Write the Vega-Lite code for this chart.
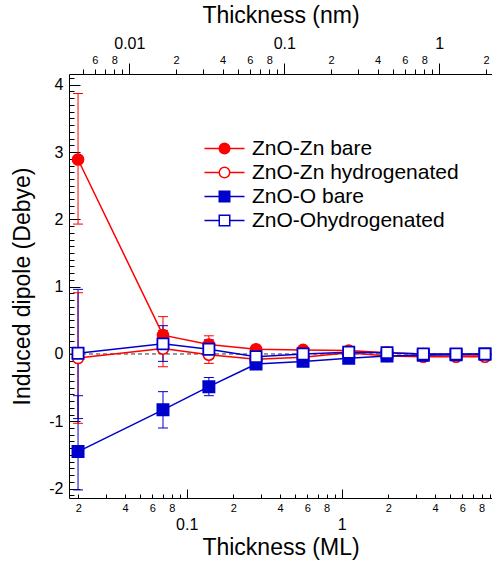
{
  "$schema": "https://vega.github.io/schema/vega-lite/v6.json",
  "width": 423,
  "height": 424,
  "autosize": {"type": "none"},
  "padding": {"left": 69, "top": 74, "right": 0, "bottom": 70},
  "background": "white",
  "config": {
    "view": {"stroke": null},
    "font": "Liberation Sans",
    "axis": {"grid": false, "domain": true, "domainColor": "black", "domainWidth": 1, "tickColor": "black", "tickWidth": 1, "labelColor": "black", "titleColor": "black", "titleFontWeight": "normal", "titleFontSize": 23, "labelOverlap": false, "labelFlush": false}
  },
  "datasets": {
    "pts": [
      {"s": "ZnO-Zn bare", "x": 0.0199, "y": 2.89, "lo": 1.93, "hi": 3.87},
      {"s": "ZnO-Zn bare", "x": 0.0703, "y": 0.28, "lo": 0.01, "hi": 0.555},
      {"s": "ZnO-Zn bare", "x": 0.139, "y": 0.14, "lo": 0.01, "hi": 0.27},
      {"s": "ZnO-Zn bare", "x": 0.28, "y": 0.07, "lo": 0.03, "hi": 0.11},
      {"s": "ZnO-Zn bare", "x": 0.563, "y": 0.06, "lo": 0.03, "hi": 0.09},
      {"s": "ZnO-Zn bare", "x": 1.11, "y": 0.05, "lo": 0.01, "hi": 0.09},
      {"s": "ZnO-Zn bare", "x": 1.96, "y": 0.02, "lo": 0.0, "hi": 0.04},
      {"s": "ZnO-Zn bare", "x": 3.36, "y": 0.0, "lo": -0.02, "hi": 0.02},
      {"s": "ZnO-Zn bare", "x": 5.47, "y": -0.01, "lo": -0.03, "hi": 0.01},
      {"s": "ZnO-Zn bare", "x": 8.4, "y": -0.02, "lo": -0.04, "hi": 0.0},
      {"s": "ZnO-Zn hydrogenated", "x": 0.0199, "y": -0.06, "lo": -1.03, "hi": 0.91},
      {"s": "ZnO-Zn hydrogenated", "x": 0.0703, "y": 0.08, "lo": -0.19, "hi": 0.35},
      {"s": "ZnO-Zn hydrogenated", "x": 0.139, "y": -0.01, "lo": -0.14, "hi": 0.12},
      {"s": "ZnO-Zn hydrogenated", "x": 0.28, "y": -0.08, "lo": -0.12, "hi": -0.04},
      {"s": "ZnO-Zn hydrogenated", "x": 0.563, "y": -0.05, "lo": -0.08, "hi": -0.02},
      {"s": "ZnO-Zn hydrogenated", "x": 1.11, "y": 0.02, "lo": -0.02, "hi": 0.06},
      {"s": "ZnO-Zn hydrogenated", "x": 1.96, "y": -0.03, "lo": -0.05, "hi": -0.01},
      {"s": "ZnO-Zn hydrogenated", "x": 3.36, "y": -0.04, "lo": -0.06, "hi": -0.02},
      {"s": "ZnO-Zn hydrogenated", "x": 5.47, "y": -0.04, "lo": -0.06, "hi": -0.02},
      {"s": "ZnO-Zn hydrogenated", "x": 8.4, "y": -0.04, "lo": -0.06, "hi": -0.02},
      {"s": "ZnO-O bare", "x": 0.0199, "y": -1.45, "lo": -2.02, "hi": -0.62},
      {"s": "ZnO-O bare", "x": 0.0703, "y": -0.83, "lo": -1.1, "hi": -0.56},
      {"s": "ZnO-O bare", "x": 0.139, "y": -0.486, "lo": -0.62, "hi": -0.35},
      {"s": "ZnO-O bare", "x": 0.28, "y": -0.15, "lo": -0.19, "hi": -0.11},
      {"s": "ZnO-O bare", "x": 0.563, "y": -0.11, "lo": -0.14, "hi": -0.08},
      {"s": "ZnO-O bare", "x": 1.11, "y": -0.065, "lo": -0.1, "hi": -0.03},
      {"s": "ZnO-O bare", "x": 1.96, "y": -0.03, "lo": -0.05, "hi": -0.01},
      {"s": "ZnO-O bare", "x": 3.36, "y": -0.02, "lo": -0.04, "hi": 0.0},
      {"s": "ZnO-O bare", "x": 5.47, "y": -0.01, "lo": -0.03, "hi": 0.01},
      {"s": "ZnO-O bare", "x": 8.4, "y": 0.0, "lo": -0.02, "hi": 0.02},
      {"s": "ZnO-Ohydrogenated", "x": 0.0199, "y": 0.01, "lo": -0.96, "hi": 0.96},
      {"s": "ZnO-Ohydrogenated", "x": 0.0703, "y": 0.15, "lo": -0.11, "hi": 0.42},
      {"s": "ZnO-Ohydrogenated", "x": 0.139, "y": 0.07, "lo": -0.07, "hi": 0.21},
      {"s": "ZnO-Ohydrogenated", "x": 0.28, "y": -0.04, "lo": -0.08, "hi": 0.0},
      {"s": "ZnO-Ohydrogenated", "x": 0.563, "y": 0.0, "lo": -0.03, "hi": 0.03},
      {"s": "ZnO-Ohydrogenated", "x": 1.11, "y": 0.025, "lo": -0.01, "hi": 0.06},
      {"s": "ZnO-Ohydrogenated", "x": 1.96, "y": 0.02, "lo": 0.0, "hi": 0.04},
      {"s": "ZnO-Ohydrogenated", "x": 3.36, "y": 0.0, "lo": -0.02, "hi": 0.02},
      {"s": "ZnO-Ohydrogenated", "x": 5.47, "y": 0.0, "lo": -0.02, "hi": 0.02},
      {"s": "ZnO-Ohydrogenated", "x": 8.4, "y": 0.0, "lo": -0.02, "hi": 0.02}
    ],
    "zero": [{"z": 0}],
    "nmrange": [{"nm": 0.004082}, {"nm": 2.188}]
  },
  "layer": [
    {
      "data": {"name": "zero"},
      "mark": {"type": "rule", "strokeDash": [4, 3], "color": "#333333", "strokeWidth": 1},
      "encoding": {
        "y": {"field": "z", "type": "quantitative", "scale": {"domain": [-2.14, 4.16], "nice": false, "zero": false}, "axis": null}
      }
    },
    {
      "data": {"name": "pts"},
      "mark": {"type": "rule", "strokeWidth": 1},
      "encoding": {
        "x": {"field": "x", "type": "quantitative", "scale": {"type": "log", "domain": [0.0174, 9.327], "nice": false}, "axis": null},
        "y": {"field": "lo", "type": "quantitative", "scale": {"domain": [-2.14, 4.16], "nice": false, "zero": false}, "axis": null},
        "y2": {"field": "hi"},
        "stroke": {"field": "s", "type": "nominal", "scale": {"domain": ["ZnO-Zn bare", "ZnO-Zn hydrogenated", "ZnO-O bare", "ZnO-Ohydrogenated"], "range": ["#ff0000", "#ff0000", "#0000cc", "#0000cc"]}}
      }
    },
    {
      "data": {"name": "pts"},
      "mark": {"type": "point", "shape": "stroke", "size": 100, "strokeWidth": 1, "opacity": 1, "filled": false},
      "encoding": {
        "x": {"field": "x", "type": "quantitative", "scale": {"type": "log", "domain": [0.0174, 9.327], "nice": false}, "axis": null},
        "y": {"field": "lo", "type": "quantitative", "scale": {"domain": [-2.14, 4.16], "nice": false, "zero": false}, "axis": null},
        "stroke": {"field": "s", "type": "nominal"}
      }
    },
    {
      "data": {"name": "pts"},
      "mark": {"type": "point", "shape": "stroke", "size": 100, "strokeWidth": 1, "opacity": 1, "filled": false},
      "encoding": {
        "x": {"field": "x", "type": "quantitative", "scale": {"type": "log", "domain": [0.0174, 9.327], "nice": false}, "axis": null},
        "y": {"field": "hi", "type": "quantitative", "scale": {"domain": [-2.14, 4.16], "nice": false, "zero": false}, "axis": null},
        "stroke": {"field": "s", "type": "nominal"}
      }
    },
    {
      "data": {"name": "pts"},
      "mark": {"type": "line", "strokeWidth": 1.5},
      "encoding": {
        "x": {"field": "x", "type": "quantitative", "scale": {"type": "log", "domain": [0.0174, 9.327], "nice": false}, "axis": null},
        "y": {"field": "y", "type": "quantitative", "scale": {"domain": [-2.14, 4.16], "nice": false, "zero": false}, "axis": null},
        "stroke": {"field": "s", "type": "nominal"}
      }
    },
    {
      "data": {"name": "pts"},
      "transform": [{"filter": "datum.s == 'ZnO-Zn bare' || datum.s == 'ZnO-Zn hydrogenated'"}],
      "mark": {"type": "point", "shape": "circle", "filled": true, "size": 125, "strokeWidth": 1.5, "opacity": 1},
      "encoding": {
        "x": {
          "field": "x", "type": "quantitative",
          "scale": {"type": "log", "domain": [0.0174, 9.327], "nice": false},
          "axis": {
            "orient": "bottom",
            "title": "Thickness (ML)",
            "titlePadding": 4,
            "labelOverlap": false,
            "values": [0.02, 0.03, 0.04, 0.05, 0.06, 0.07, 0.08, 0.09, 0.1, 0.2, 0.3, 0.4, 0.5, 0.6, 0.7, 0.8, 0.9, 1, 2, 3, 4, 5, 6, 7, 8, 9],
            "labelExpr": "round(datum.value/pow(10,floor(log(datum.value)/LN10+0.000001))) == 1 ? ''+datum.value : (indexof([2,4,6,8], round(datum.value/pow(10,floor(log(datum.value)/LN10+0.000001)))) >= 0 ? ''+round(datum.value/pow(10,floor(log(datum.value)/LN10+0.000001))) : '')",
            "tickSize": {"condition": {"test": "abs(log(datum.value)/LN10 - round(log(datum.value)/LN10)) < 0.001", "value": -9}, "value": -4},
            "labelPadding": {"condition": {"test": "abs(log(datum.value)/LN10 - round(log(datum.value)/LN10)) < 0.001", "value": 27}, "value": 8},
            "labelFontSize": {"condition": {"test": "abs(log(datum.value)/LN10 - round(log(datum.value)/LN10)) < 0.001", "value": 16}, "value": 11}
          }
        },
        "y": {
          "field": "y", "type": "quantitative",
          "scale": {"domain": [-2.14, 4.16], "nice": false, "zero": false},
          "axis": {
            "orient": "left",
            "title": "Induced dipole (Debye)",
            "titlePadding": 14,
            "labelOverlap": false,
            "values": [-2.1, -2, -1.9, -1.8, -1.7, -1.6, -1.5, -1.4, -1.3, -1.2, -1.1, -1, -0.9, -0.8, -0.7, -0.6, -0.5, -0.4, -0.3, -0.2, -0.1, 0, 0.1, 0.2, 0.3, 0.4, 0.5, 0.6, 0.7, 0.8, 0.9, 1, 1.1, 1.2, 1.3, 1.4, 1.5, 1.6, 1.7, 1.8, 1.9, 2, 2.1, 2.2, 2.3, 2.4, 2.5, 2.6, 2.7, 2.8, 2.9, 3, 3.1, 3.2, 3.3, 3.4, 3.5, 3.6, 3.7, 3.8, 3.9, 4, 4.1],
            "labelExpr": "abs(datum.value - round(datum.value)) < 0.001 ? '' + round(datum.value) : ''",
            "labelFontSize": 16,
            "tickSize": {"condition": {"test": "abs(datum.value - round(datum.value)) < 0.001", "value": -11}, "value": -5},
            "labelPadding": {"condition": {"test": "abs(datum.value - round(datum.value)) < 0.001", "value": 17}, "value": 5}
          }
        },
        "fill": {"field": "s", "type": "nominal", "scale": {"domain": ["ZnO-Zn bare", "ZnO-Zn hydrogenated", "ZnO-O bare", "ZnO-Ohydrogenated"], "range": ["#ff0000", "#ffffff", "#0000cc", "#ffffff"]}, "legend": {"orient": "none", "legendX": 145, "legendY": 64, "title": null, "labelFontSize": 21, "labelColor": "black", "symbolSize": 196, "symbolStrokeWidth": 1.5, "symbolOpacity": 1, "labelOffset": 17, "rowPadding": 2, "padding": 0, "labelLimit": 400}},
        "stroke": {"field": "s", "type": "nominal", "legend": {"orient": "none", "legendX": 145, "legendY": 64, "title": null, "labelFontSize": 21, "labelColor": "black", "symbolSize": 196, "symbolStrokeWidth": 1.5, "symbolOpacity": 1, "labelOffset": 17, "rowPadding": 2, "padding": 0, "labelLimit": 400}}
      }
    },
    {
      "data": {"name": "pts"},
      "transform": [{"filter": "datum.s == 'ZnO-O bare' || datum.s == 'ZnO-Ohydrogenated'"}],
      "mark": {"type": "point", "shape": "square", "filled": true, "size": 125, "strokeWidth": 1.8, "opacity": 1},
      "encoding": {
        "x": {"field": "x", "type": "quantitative", "scale": {"type": "log", "domain": [0.0174, 9.327], "nice": false}, "axis": null},
        "y": {"field": "y", "type": "quantitative", "scale": {"domain": [-2.14, 4.16], "nice": false, "zero": false}, "axis": null},
        "fill": {"field": "s", "type": "nominal"},
        "stroke": {"field": "s", "type": "nominal"}
      }
    },
    {
      "data": {"name": "pts"},
      "transform": [{"filter": "false"}],
      "mark": {"type": "point", "filled": true, "strokeWidth": 1.5},
      "encoding": {
        "shape": {"field": "s", "type": "nominal", "scale": {"domain": ["ZnO-Zn bare", "ZnO-Zn hydrogenated", "ZnO-O bare", "ZnO-Ohydrogenated"], "range": ["M-2.86,0H-0.75M0.75,0H2.86M0.75,0A0.75,0.75,0,1,1,-0.75,0A0.75,0.75,0,1,1,0.75,0Z", "M-2.86,0H-0.75M0.75,0H2.86M0.75,0A0.75,0.75,0,1,1,-0.75,0A0.75,0.75,0,1,1,0.75,0Z", "M-2.86,0H-0.75M0.75,0H2.86M-0.75,-0.75H0.75V0.75H-0.75Z", "M-2.86,0H-0.75M0.75,0H2.86M-0.75,-0.75H0.75V0.75H-0.75Z"]}, "legend": {"orient": "none", "legendX": 145, "legendY": 64, "title": null, "labelFontSize": 21, "labelColor": "black", "symbolSize": 196, "symbolStrokeWidth": 1.5, "symbolOpacity": 1, "labelOffset": 17, "rowPadding": 2, "padding": 0, "labelLimit": 400}},
        "fill": {"field": "s", "type": "nominal"},
        "stroke": {"field": "s", "type": "nominal"}
      }
    },
    {
      "data": {"name": "nmrange"},
      "mark": {"type": "point", "opacity": 0},
      "encoding": {
        "x": {
          "field": "nm", "type": "quantitative",
          "scale": {"type": "log", "domain": [0.004082, 2.188], "nice": false},
          "axis": {
            "orient": "top",
            "title": "Thickness (nm)",
            "titlePadding": 8,
            "labelOverlap": false,
            "values": [0.005, 0.006, 0.007, 0.008, 0.009, 0.01, 0.02, 0.03, 0.04, 0.05, 0.06, 0.07, 0.08, 0.09, 0.1, 0.2, 0.3, 0.4, 0.5, 0.6, 0.7, 0.8, 0.9, 1, 2],
            "labelExpr": "round(datum.value/pow(10,floor(log(datum.value)/LN10+0.000001))) == 1 ? ''+datum.value : (indexof([2,4,6,8], round(datum.value/pow(10,floor(log(datum.value)/LN10+0.000001)))) >= 0 ? ''+round(datum.value/pow(10,floor(log(datum.value)/LN10+0.000001))) : '')",
            "tickSize": {"condition": {"test": "abs(log(datum.value)/LN10 - round(log(datum.value)/LN10)) < 0.001", "value": 11}, "value": 5},
            "labelPadding": {"condition": {"test": "abs(log(datum.value)/LN10 - round(log(datum.value)/LN10)) < 0.001", "value": 12}, "value": 4},
            "labelFontSize": {"condition": {"test": "abs(log(datum.value)/LN10 - round(log(datum.value)/LN10)) < 0.001", "value": 16}, "value": 11}
          }
        }
      }
    }
  ],
  "resolve": {"scale": {"x": "independent", "y": "independent"}}
}
